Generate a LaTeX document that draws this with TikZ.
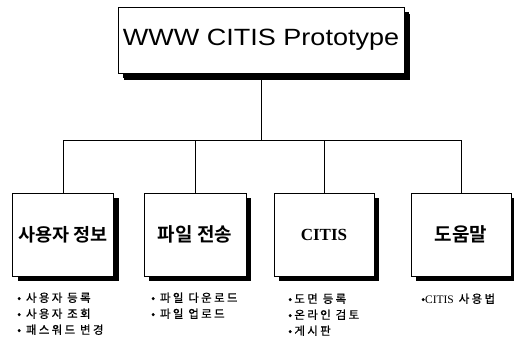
\documentclass[tikz,border=0pt]{standalone}
\usepackage{fontspec}
\usepackage{graphicx}
\usetikzlibrary{shadows}
\setmainfont{Liberation Sans}
\newfontfamily\titlefont{Liberation Sans}
\newfontfamily\serifb{Liberation Serif}
\newfontfamily\krb[BoldFont={Noto Sans CJK KR Bold}]{Noto Sans CJK KR}
\newfontfamily\krl[LetterSpace=20,FakeBold=0.6]{Noto Sans CJK KR}
\begin{document}
\begin{tikzpicture}[x=1pt,y=-1pt,
  box/.style={draw=black, line width=1pt, fill=white, inner sep=0pt,
    drop shadow={shadow xshift=5pt, shadow yshift=-5pt, fill=black, opacity=1}},
  conn/.style={draw=black, line width=0.9pt},
  item/.style={anchor=base west, inner sep=0pt, font=\krl\fontsize{11.5}{12}\selectfont}]
\useasboundingbox (0,0) rectangle (514,341);
\node[box, minimum width=286pt, minimum height=66pt,
  drop shadow={shadow xshift=6pt, shadow yshift=-7pt, fill=black, opacity=1}] (top) at (261,40)
  {\titlefont\fontsize{23.5}{26}\selectfont\scalebox{1.15}[1]{WWW CITIS Prototype}};
\node[box, minimum width=101pt, minimum height=83pt] (c1) at (63,234.5)
  {\krb\bfseries\fontsize{18}{20}\selectfont\scalebox{1.03}[1]{사용자 정보}};
\node[box, minimum width=102pt, minimum height=83pt] (c2) at (195,234.5)
  {\krb\bfseries\fontsize{19}{20}\selectfont 파일 전송};
\node[box, minimum width=100pt, minimum height=83pt] (c3) at (324,234.5)
  {\serifb\bfseries\fontsize{17}{18}\selectfont CITIS};
\node[box, minimum width=100pt, minimum height=83pt] (c4) at (461,234.5)
  {\krb\bfseries\fontsize{19}{20}\selectfont 도움말};
\coordinate (bar) at (0,140);
\draw[conn] (top.south) -- (top.south |- bar);
\draw[conn] (c1.north) -- (c1.north |- bar) -- (c4.north |- bar) -- (c4.north);
\draw[conn] (c2.north) -- (c2.north |- bar);
\draw[conn] (c3.north) -- (c3.north |- bar);
\node[item] (a1) at (17,302) {• 사용자 등록};
\node[item] (a2) at (17,318) {• 사용자 조회};
\node[item] (a3) at (17,334) {• 패스워드 변경};
\node[item] (b1) at (151,302) {• 파일 다운로드};
\node[item] (b2) at (151,318) {• 파일 업로드};
\node[item] (d1) at (288,303) {•도면 등록};
\node[item] (d2) at (288,319) {•온라인 검토};
\node[item] (d3) at (288,335) {•게시판};
\node[item] (e1) at (421,303) {•{\serifb CITIS} 사용법};
\end{tikzpicture}
\end{document}
